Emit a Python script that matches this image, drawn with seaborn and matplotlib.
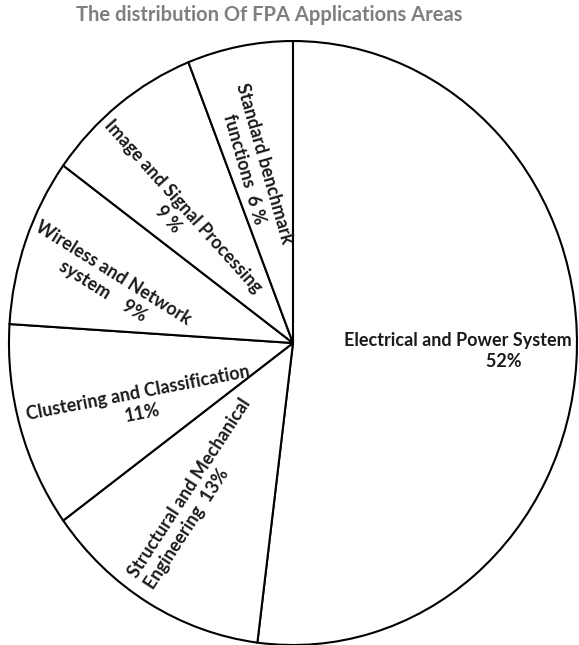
import numpy as np
import seaborn as sns
import matplotlib
matplotlib.use('Agg')
import matplotlib.pyplot as plt

# chart data
areas = ['Electrical and Power System', 'Structural and Mechanical Engineering',
         'Clustering and Classification', 'Wireless and Network system',
         'Image and Signal Processing', 'Standard benchmark functions']
shares = [52, 13, 11, 9, 9, 6]
label_texts = ['Electrical and Power System\n                     52%',
               'Structural and Mechanical\nEngineering  13%',
               'Clustering and Classification\n11%',
               'Wireless and Network\nsystem    9%',
               'Image and Signal Processing\n9 %',
               'Standard benchmark\nfunctions  6 %']

# label placement: radius fraction, angle nudge from wedge middle, rotation, line alignment
label_radius = [0.582, 0.602, 0.574, 0.682, 0.598, 0.602]
label_nudge = [1.0, -3.2, 4.1, 2.6, 6.1, 2.4]
label_rotation = [0, 57, 11, -32, -48, -74]
label_align = ['center', 'left', 'center', 'center', 'center', 'center']

sns.set_theme(style='white')
plt.rcParams['font.family'] = ['Lato', 'DejaVu Sans']

fig = plt.figure(figsize=(5.79, 6.45), dpi=100)
ax = fig.add_axes([0.0155, 0.0, 0.981, 0.9364])

wedges, _ = ax.pie(shares, startangle=90, counterclock=False, colors=['white'] * len(shares),
                   wedgeprops={'edgecolor': 'black', 'linewidth': 1.5})
for w in wedges:
    w.set_clip_on(False)
ax.set_aspect('auto')
ax.set_xlim(-1, 1)
ax.set_ylim(-1, 1)
ax.axis('off')

for w, txt, r, dn, rot, al in zip(wedges, label_texts, label_radius, label_nudge,
                                  label_rotation, label_align):
    ang = np.deg2rad((w.theta1 + w.theta2) / 2 + dn)
    ax.text(r * np.cos(ang), r * np.sin(ang), txt, rotation=rot, rotation_mode='anchor',
            ha='center', va='center', multialignment=al,
            fontsize=13, fontweight='bold', color='#1a1a1a', linespacing=1.25)

fig.text(0.465, 0.977, 'The distribution Of FPA Applications Areas', ha='center', va='center',
         fontsize=14.5, fontweight='bold', color='#7f7f7f')

fig.savefig('out.png', dpi=100)
